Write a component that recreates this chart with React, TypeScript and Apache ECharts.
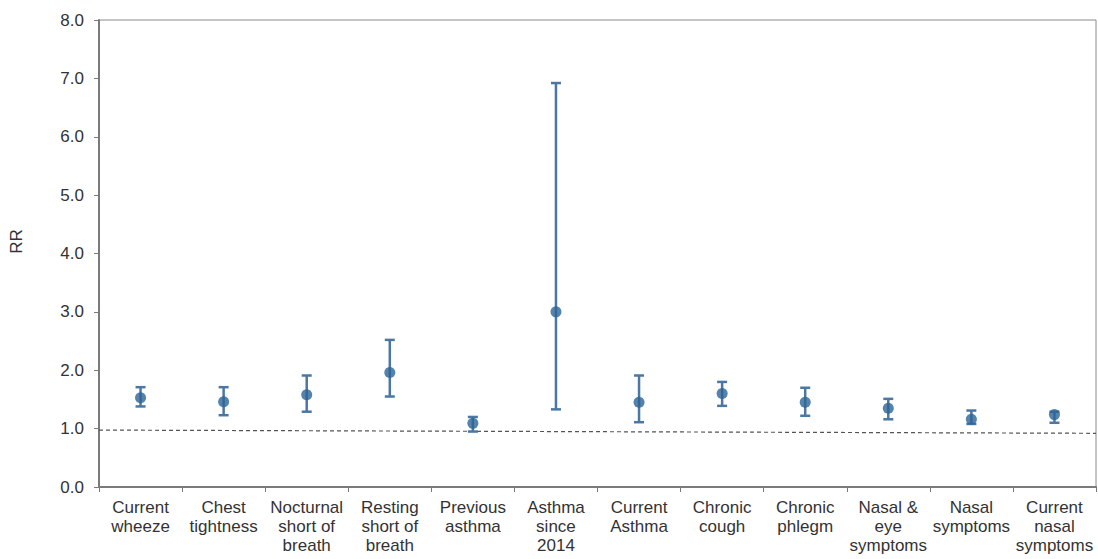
import React, { useEffect, useRef } from "react";
import * as echarts from "echarts";

const categories = [
  "Current\nwheeze",
  "Chest\ntightness",
  "Nocturnal\nshort of\nbreath",
  "Resting\nshort of\nbreath",
  "Previous\nasthma",
  "Asthma\nsince\n2014",
  "Current\nAsthma",
  "Chronic\ncough",
  "Chronic\nphlegm",
  "Nasal &\neye\nsymptoms",
  "Nasal\nsymptoms",
  "Current\nnasal\nsymptoms",
];
const rr = [1.53, 1.46, 1.58, 1.96, 1.09, 3.0, 1.45, 1.6, 1.45, 1.35, 1.16, 1.24];
const lower = [1.38, 1.23, 1.29, 1.55, 0.95, 1.33, 1.11, 1.39, 1.22, 1.16, 1.08, 1.1];
const upper = [1.71, 1.71, 1.91, 2.52, 1.2, 6.92, 1.91, 1.8, 1.7, 1.51, 1.31, 1.29];
const refLine = [
  [0, 0.975],
  [1, 0.92],
];

const BAR = "#4a77a3";
const DOT = "#2c6496";

export default function App() {
  const ref = useRef<HTMLDivElement>(null);
  useEffect(() => {
    if (!ref.current) return;
    const chart = echarts.init(ref.current, undefined, { renderer: "svg" });
    const font = "Liberation Sans, Arial, sans-serif";
    chart.setOption({
      animation: false,
      grid: {
        left: 99,
        right: 2,
        top: 20,
        bottom: 72,
        show: true,
        borderColor: "#8a8a8a",
        borderWidth: 1,
      },
      xAxis: [
        {
          type: "category",
          data: categories,
          axisLine: { lineStyle: { color: "#7a7a7a", width: 2 } },
          axisTick: { show: true, length: 5, lineStyle: { color: "#7a7a7a" } },
          axisLabel: {
            color: "#333",
            fontSize: 17,
            fontFamily: font,
            lineHeight: 19,
            margin: 11,
            interval: 0,
          },
        },
        {
          type: "value",
          min: 0,
          max: 1,
          show: false,
        },
      ],
      yAxis: {
        type: "value",
        min: 0,
        max: 8,
        interval: 1,
        name: "RR",
        nameLocation: "middle",
        nameGap: 74,
        nameTextStyle: { color: "#333", fontSize: 17, fontFamily: font, padding: [0, 0, 0, 24] },
        axisLine: { show: true, lineStyle: { color: "#7a7a7a", width: 2 } },
        axisTick: { show: true, length: 5, lineStyle: { color: "#7a7a7a" } },
        splitLine: { show: false },
        axisLabel: {
          color: "#333",
          fontSize: 17,
          fontFamily: font,
          margin: 15,
          formatter: (v: number) => v.toFixed(1),
        },
      },
      series: [
        {
          type: "line",
          xAxisIndex: 1,
          data: refLine,
          symbol: "none",
          lineStyle: { color: "#555", width: 1.2, type: [4, 3] },
          z: 1,
        },
        {
          type: "custom",
          xAxisIndex: 0,
          data: categories.map((_, i) => [i, lower[i], upper[i]]),
          renderItem: (params: any, api: any) => {
            const i = api.value(0);
            const lo = api.coord([i, api.value(1)]);
            const hi = api.coord([i, api.value(2)]);
            const hw = 5;
            const style = { stroke: BAR, lineWidth: 2.5 };
            return {
              type: "group",
              children: [
                { type: "line", shape: { x1: lo[0], y1: lo[1], x2: hi[0], y2: hi[1] }, style },
                { type: "line", shape: { x1: lo[0] - hw, y1: lo[1], x2: lo[0] + hw, y2: lo[1] }, style },
                { type: "line", shape: { x1: hi[0] - hw, y1: hi[1], x2: hi[0] + hw, y2: hi[1] }, style },
              ],
            };
          },
          z: 2,
        },
        {
          type: "scatter",
          xAxisIndex: 0,
          data: rr,
          symbol: "circle",
          symbolSize: 11,
          itemStyle: { color: DOT },
          z: 3,
        },
      ],
    });
    return () => chart.dispose();
  }, []);
  return (
    <div
      ref={ref}
      style={{ position: "absolute", left: 0, top: 0, width: 1098, height: 559 }}
    />
  );
}
